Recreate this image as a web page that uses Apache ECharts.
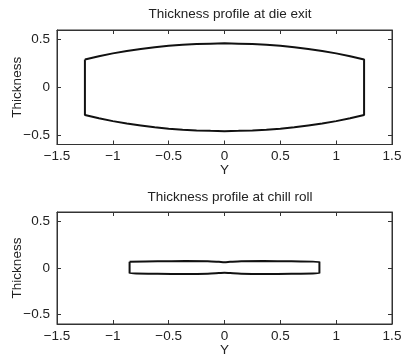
<!DOCTYPE html>
<html><head><meta charset="utf-8">
<script src="https://cdn.jsdelivr.net/npm/echarts@6/dist/echarts.min.js"></script>
<style>html,body{margin:0;padding:0;background:#fff}#c{width:401px;height:358px}</style>
</head><body><div id="c"></div>
<script>
var titles = ["Thickness profile at die exit", "Thickness profile at chill roll"];
var xTicks = [-1.5, -1, -0.5, 0, 0.5, 1, 1.5];
var yTicks = [-0.5, 0, 0.5];
// Die exit profile
var dieX      = [-1.25, -1.125, -1.0, -0.875, -0.75, -0.625, -0.5, -0.375, -0.25, -0.125, 0, 0.125, 0.25, 0.375, 0.5, 0.625, 0.75, 0.875, 1.0, 1.125, 1.25];
var dieTop    = [0.29, 0.325, 0.355, 0.38, 0.40, 0.42, 0.435, 0.445, 0.452, 0.457, 0.46, 0.457, 0.452, 0.445, 0.435, 0.42, 0.40, 0.38, 0.355, 0.325, 0.29];
var dieBottom = [-0.29, -0.325, -0.355, -0.38, -0.40, -0.42, -0.435, -0.445, -0.452, -0.457, -0.46, -0.457, -0.452, -0.445, -0.435, -0.42, -0.40, -0.38, -0.355, -0.325, -0.29];
// Chill roll profile
var chillX      = [-0.85, -0.6, -0.35, -0.15, -0.05, 0, 0.05, 0.15, 0.35, 0.6, 0.85];
var chillTop    = [0.066, 0.071, 0.074, 0.072, 0.066, 0.062, 0.066, 0.072, 0.074, 0.071, 0.066];
var chillBottom = [-0.056, -0.061, -0.064, -0.061, -0.054, -0.050, -0.054, -0.061, -0.064, -0.061, -0.056];

function closedPath(xs, top, bot) {
  var pts = [];
  for (var i = 0; i < xs.length; i++) pts.push([xs[i], top[i]]);
  for (var j = xs.length - 1; j >= 0; j--) pts.push([xs[j], bot[j]]);
  pts.push([xs[0], top[0]]);
  return pts;
}
function fmt(v) {
  var s = String(v);
  return s.charAt(0) === '-' ? '\u2212' + s.slice(1) : s;
}
var FONT = 'Liberation Sans';
var FS = 13.5;
var txt = {color: '#222', fontFamily: FONT, fontSize: FS};
var grids = [
  {left: 57, width: 335, top: 30, height: 114.5},
  {left: 57, width: 335, top: 212, height: 112}
];
var xAxes = [], yAxes = [], series = [], titleArr = [];
grids.forEach(function (g, k) {
  g.show = true; g.borderColor = '#333'; g.borderWidth = 1; g.backgroundColor = '#fff';
  g.containLabel = false; g.outerBoundsMode = 'none';
  ['bottom', 'top'].forEach(function (pos) {
    xAxes.push({
      gridIndex: k, type: 'value', position: pos, min: xTicks[0], max: xTicks[xTicks.length - 1], interval: 0.5,
      name: pos === 'bottom' ? 'Y' : '', nameLocation: 'middle', nameGap: 19, nameTextStyle: txt,
      nameMoveOverlap: false,
      axisLine: {show: true, onZero: false, lineStyle: {color: '#333', width: 1}},
      axisTick: {show: true, inside: true, length: 4, lineStyle: {color: '#333'}},
      axisLabel: {show: pos === 'bottom', margin: 5, formatter: fmt, color: '#222', fontFamily: FONT, fontSize: FS},
      splitLine: {show: false}
    });
  });
  ['left', 'right'].forEach(function (pos) {
    yAxes.push({
      gridIndex: k, type: 'value', position: pos, min: -0.6, max: 0.6,
      customValues: yTicks,
      name: pos === 'left' ? 'Thickness' : '', nameLocation: 'middle', nameGap: 33, nameTextStyle: txt,
      nameMoveOverlap: false,
      axisLine: {show: true, onZero: false, lineStyle: {color: '#333', width: 1}},
      axisTick: {show: true, inside: true, length: 4, customValues: yTicks, lineStyle: {color: '#333'}},
      axisLabel: {show: pos === 'left', margin: 7, customValues: yTicks, formatter: fmt, color: '#222', fontFamily: FONT, fontSize: FS},
      splitLine: {show: false}
    });
  });
  titleArr.push({
    text: titles[k], left: 225, textAlign: 'center', top: k === 0 ? 2 : 185.5,
    textStyle: {color: '#222', fontFamily: FONT, fontSize: FS, fontWeight: 'normal'}
  });
});
series.push({
  type: 'line', xAxisIndex: 0, yAxisIndex: 0, showSymbol: false, symbol: 'none', animation: false,
  lineStyle: {color: '#111', width: 2}, data: closedPath(dieX, dieTop, dieBottom)
});
series.push({
  type: 'line', xAxisIndex: 2, yAxisIndex: 2, showSymbol: false, symbol: 'none', animation: false, smooth: 0.3,
  lineStyle: {color: '#111', width: 2}, data: closedPath(chillX, chillTop, chillBottom)
});
var chart = echarts.init(document.getElementById('c'), null, {renderer: 'canvas'});
chart.setOption({
  animation: false, backgroundColor: '#fff',
  title: titleArr, grid: grids, xAxis: xAxes, yAxis: yAxes, series: series
});
</script></body></html>
